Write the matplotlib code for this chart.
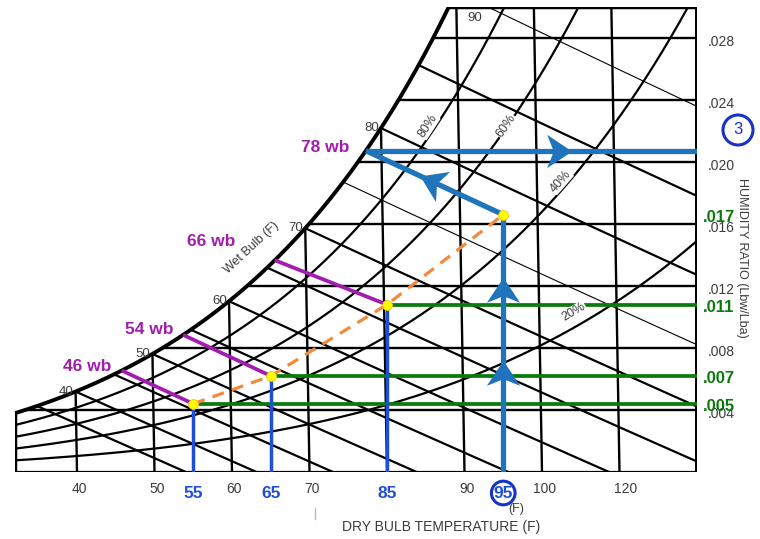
import numpy as np
import matplotlib.pyplot as plt
from matplotlib.patches import Polygon
from matplotlib.markers import MarkerStyle
from matplotlib.path import Path
from matplotlib.transforms import Affine2D

plt.rcParams['font.family'] = ['Liberation Sans', 'DejaVu Sans']

# chart grid
db_lines = [40, 50, 60, 70, 80, 90, 100, 110]
w_lines = [0.004, 0.008, 0.012, 0.016, 0.020, 0.024, 0.028]
w_line_text = ['.004', '.008', '.012', '.016', '.020', '.024', '.028']
rh_lines = [0.8, 0.6, 0.4, 0.2]
rh_text = ['80%', '60%', '40%', '20%']
rh_text_at = [87.0, 95.6, 102.8, 105.5]
wb_thick = [35, 40, 45, 50, 55, 60, 65, 70, 80, 85]
wb_thin = [75, 90]
wb_marks = [40, 50, 60, 70, 80, 90]

# bottom axis labels (as printed on the chart)
db_tick_text = ['40', '50', '60', '70', '90', '100', '120']
db_tick_at = [40.3, 50.3, 60.3, 70.3, 90.3, 100.3, 110.8]

# process points
proc_db = [55, 65, 80, 95]
proc_w = [0.0044, 0.0062, 0.0108, 0.0166]
proc_wb = [46, 54, 66, 78]
proc_db_text = ['55', '65', '85', '95']
proc_w_text = ['.005', '.007', '.011', '.017']
proc_wb_text = ['46 wb', '54 wb', '66 wb', '78 wb']

P_ATM = 101.325
LEAN = 35.0
T_MIN, T_MAX, W_TOP = 32, 120, 0.030

GRAY = '#3c3c3c'
PURPLE = '#a21caf'
GREEN = '#0b7a0b'
BLUE = '#1f4fd6'
STEEL = '#1f74bb'
ORANGE = '#f28a3c'


def p_sat(t):
    tc = (np.asarray(t, float) - 32) / 1.8
    return 0.61094 * np.exp(17.625 * tc / (tc + 243.04))


def w_rh(t, rh=1.0):
    p = rh * p_sat(t)
    return 0.622 * p / (P_ATM - p)


def w_wb(t, twb):
    ws = w_rh(twb)
    return ((1093 - 0.556 * twb) * ws - 0.240 * (t - twb)) / (1093 + 0.444 * t - twb)


def cx(t, w):
    return np.asarray(t, float) - LEAN * np.asarray(w, float)


fig = plt.figure(figsize=(7.6, 5.39), dpi=100)
ax = fig.add_axes([15 / 760, 67 / 539, 682 / 760, 465 / 539])
ax.set_xlim(T_MIN, T_MAX)
ax.set_ylim(0, W_TOP)
ax.axis('off')

# region under the saturation curve
t_s = np.linspace(32.15, 95, 3000)
w_s = w_rh(t_s)
keep = w_s <= W_TOP
x_s, w_s = cx(t_s[keep], w_s[keep]), w_s[keep]
verts = [(T_MIN, 0), (T_MAX, 0), (T_MAX, W_TOP), (x_s[-1], W_TOP)] + list(zip(x_s[::-1], w_s[::-1]))
clip = Polygon(verts, closed=True, transform=ax.transData)


def grid_line(x, y, lw):
    ln, = ax.plot(x, y, color='black', lw=lw, solid_capstyle='butt')
    ln.set_clip_path(clip)


for t in db_lines:
    w = np.array([0, W_TOP])
    grid_line(cx(t, w), w, 1.7)
for w in w_lines:
    grid_line([T_MIN, T_MAX], [w, w], 1.7)
for rh in rh_lines:
    t = np.linspace(32, 140, 400)
    w = w_rh(t, rh)
    grid_line(cx(t, w), w, 1.6)
for twb in wb_thick + wb_thin:
    t = np.linspace(twb, twb + 110, 300)
    w = w_wb(t, twb)
    grid_line(cx(t, w), w, 1.6 if twb in wb_thick else 0.8)

# outline
ax.plot(x_s, w_s, color='black', lw=2.8, solid_capstyle='round')
ax.plot([T_MIN, T_MAX], [0, 0], color='black', lw=2.3)
ax.plot([T_MAX, T_MAX], [0, W_TOP], color='black', lw=3.6)
ax.plot([x_s[-1], T_MAX], [W_TOP, W_TOP], color='black', lw=2.5)
ax.plot([T_MIN, T_MIN], [0, w_s[0]], color='black', lw=2.5)

# wet bulb numbers on the saturation curve
for twb in wb_marks:
    ws = float(w_rh(twb))
    if ws <= W_TOP:
        ax.annotate(str(twb), (cx(twb, ws), ws), xytext=(-2, 0), textcoords='offset pixels',
                    ha='right', va='center', fontsize=9.5, color=GRAY)
    else:
        t = np.linspace(twb, twb + 20, 400)
        w = w_wb(t, twb)
        i = np.argmin(np.abs(w - 0.0293))
        ax.annotate(str(twb), (cx(t[i], w[i]), w[i]), xytext=(-28, 0), textcoords='offset pixels',
                    ha='right', va='center', fontsize=9.5, color=GRAY)
fig.text(252 / 760, 1 - 248 / 539, 'Wet Bulb (F)', rotation=43, ha='center', va='center',
         fontsize=9, color=GRAY)

# relative humidity labels
rh_off = [(-7, 1), (4, 8), (2, 12), (-8, 11)]
for rh, txt, t, off in zip(rh_lines, rh_text, rh_text_at, rh_off):
    w = float(w_rh(t, rh))
    p0 = ax.transData.transform((cx(t, w), w))
    w2 = float(w_rh(t + 1, rh))
    p1 = ax.transData.transform((cx(t + 1, w2), w2))
    ang = np.degrees(np.arctan2(p1[1] - p0[1], p1[0] - p0[0]))
    ax.annotate(txt, (cx(t, w), w), xytext=off, textcoords='offset pixels', rotation=ang,
                rotation_mode='anchor', ha='center', va='center', fontsize=9, color=GRAY,
                bbox=dict(fc='white', ec='none', pad=0.3))

# axis labels
for txt, x in zip(db_tick_text, db_tick_at):
    ax.annotate(txt, (x, 0), xytext=(0, -17), textcoords='offset pixels', ha='center',
                va='center', fontsize=10, color=GRAY)
for txt, w in zip(w_line_text, w_lines):
    ax.annotate(txt, (T_MAX, w), xytext=(11, -4), textcoords='offset pixels', ha='left',
                va='center', fontsize=10, color=GRAY)
fig.text(441 / 760, 1 - 527 / 539, 'DRY BULB TEMPERATURE (F)', ha='center', va='center',
         fontsize=10, color=GRAY)
fig.text(742 / 760, 1 - 258 / 539, 'HUMIDITY RATIO (Lbw/Lba)', rotation=-90, ha='center',
         va='center', fontsize=9, color=GRAY)
fig.text(516 / 760, 1 - 509 / 539, '(F)', ha='center', va='center', fontsize=9, color=GRAY)
fig.add_artist(plt.Line2D([315 / 760, 315 / 760], [1 - 519 / 539, 1 - 508 / 539],
                          color='#bbbbbb', lw=1))

# process overlay (drawn upright, no lean)
for t, w, twb, txt in zip(proc_db, proc_w, proc_wb, proc_db_text):
    ws = float(w_rh(twb))
    if twb != proc_wb[-1]:
        ax.plot([cx(twb, ws), t], [ws, w], color=PURPLE, lw=2.7, solid_capstyle='butt')
        ax.plot([t, t], [w, 0], color=BLUE, lw=2.5, solid_capstyle='butt')
        ax.plot([t, T_MAX], [w, w], color=GREEN, lw=2.7, solid_capstyle='butt')
    ax.annotate(txt, (t, 0), xytext=(0, -21), textcoords='offset pixels', ha='center',
                va='center', fontsize=12.5, color=BLUE, fontweight='bold')

for w, txt in zip(proc_w, proc_w_text):
    ax.annotate(txt, (T_MAX, w), xytext=(6, -3), textcoords='offset pixels', ha='left',
                va='center', fontsize=12, color=GREEN, fontweight='bold')

lbl_off = [(-10, 4), (-10, 5), (-39, 19), (-17, 3)]
for twb, txt, off in zip(proc_wb, proc_wb_text, lbl_off):
    ws = float(w_rh(twb))
    ax.annotate(txt, (cx(twb, ws), ws), xytext=off, textcoords='offset pixels', ha='right',
                va='center', fontsize=12.5, color=PURPLE, fontweight='bold')

ax.plot(proc_db, proc_w, color=ORANGE, lw=2.3, dashes=(3.8, 2.6))

# final step: evaporative line back to saturation then out at constant humidity
t4, w4, wb4 = proc_db[-1], proc_w[-1], proc_wb[-1]
ws4 = float(w_rh(wb4))
ax.plot([t4, t4], [0, w4], color=STEEL, lw=3.8, solid_capstyle='butt')
ax.plot([t4, cx(wb4, ws4)], [w4, ws4], color=STEEL, lw=3.8, solid_capstyle='butt')
ax.plot([cx(wb4, ws4), T_MAX], [ws4, ws4], color=STEEL, lw=3.8, solid_capstyle='butt')

ax.scatter(proc_db, proc_w, s=50, color='#ffff00', edgecolor='#f5c400', lw=0.6, zorder=6)

# arrow heads
head = Path([(0, 1), (1, -0.5), (0, -0.1), (-1, -0.5), (0, 1)],
            [Path.MOVETO, Path.LINETO, Path.LINETO, Path.LINETO, Path.CLOSEPOLY])


def arrow_head(a, b, frac):
    pa, pb = ax.transData.transform(a), ax.transData.transform(b)
    ang = np.degrees(np.arctan2(pb[1] - pa[1], pb[0] - pa[0]))
    pos = ax.transData.inverted().transform(pa + frac * (pb - pa))
    m = MarkerStyle(head, transform=Affine2D().rotate_deg(ang - 90))
    ax.plot(pos[0], pos[1], marker=m, ms=24, color=STEEL, mec='none', zorder=5)


arrow_head((t4, 0), (t4, w4), 0.37)
arrow_head((t4, 0), (t4, w4), 0.69)
arrow_head((t4, w4), (cx(wb4, ws4), ws4), 0.5)
arrow_head((cx(wb4, ws4), ws4), (T_MAX, ws4), 0.57)

# circled callouts
fig.text(738 / 760, 1 - 130 / 539, '3', ha='center', va='center', fontsize=12, color='#1533c4',
         bbox=dict(boxstyle='circle,pad=0.45', fc='none', ec='#1533c4', lw=2.2))
ax.annotate('95', (t4, 0), xytext=(0, -21), textcoords='offset pixels', ha='center',
            va='center', fontsize=12.5, color='none',
            bbox=dict(boxstyle='circle,pad=0.12', fc='none', ec='#1533c4', lw=2.2))

fig.savefig('out.png', dpi=100)
